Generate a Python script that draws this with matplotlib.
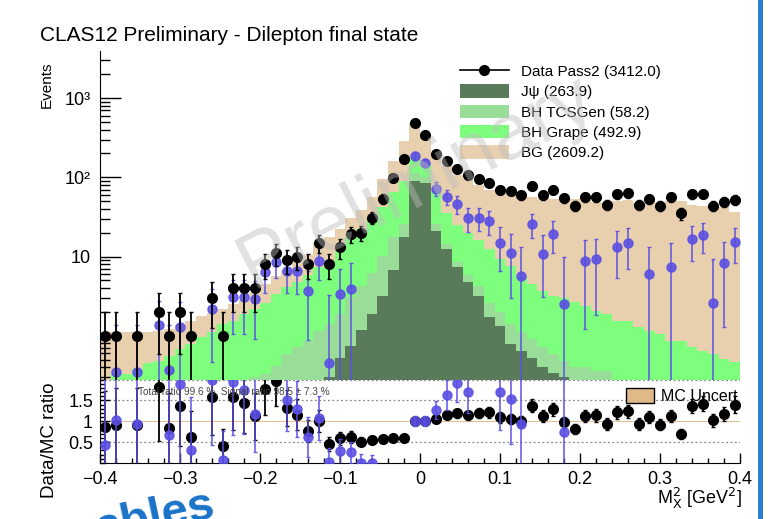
import numpy as np
import matplotlib
matplotlib.use('Agg')
import matplotlib.pyplot as plt
from matplotlib.patches import Patch, Rectangle
from matplotlib.lines import Line2D
from matplotlib.ticker import FixedLocator, NullFormatter, MultipleLocator

plt.rcParams['font.family'] = ['Liberation Sans', 'DejaVu Sans']

# binning in M_X^2
x_lo, x_hi, n_bins = -0.4, 0.4, 60

# data (counts per bin)
data_counts = [1, 1, 0, 1, 0, 2, 1, 2, 1, 0,
               3, 1, 4, 4, 4, 8, 11, 9, 10, 8,
               15, 8, 13, 19, 20, 31, 54, 98, 169, 479,
               341, 199, 161, 129, 107, 96, 86, 70, 68, 59,
               78, 60, 70, 55, 44, 56, 56, 45, 61, 63,
               45, 53, 44, 56, 35, 61, 62, 44, 49, 52]

# MC components (events per bin)
jpsi = [0] * 20 + [0.25, 0.30, 0.53, 0.75, 1.17, 1.88, 3.2, 6.7, 17.5, 91,
                   85, 21, 12.5, 7.3, 4.7, 3.2, 1.7, 1.34, 0.79, 0.65,
                   0.53, 0.4, 0.34, 0.3] + [0] * 16
bh_tcsgen = [0] * 13 + [0.28, 0.30, 0.33, 0.42, 0.59, 0.71, 0.86, 0.91,
                        1.10, 1.37, 2.30, 3.13, 4.32, 7.0, 10.8, 8.5, 21, 15,
                        5.0, 2.0, 1.2, 1.1, 1.0, 0.9, 0.66, 0.61, 0.45, 0.38,
                        0.31, 0.25, 0.18, 0.40, 0.40, 0.36, 0.36] + [0] * 12
bh_grape = [0.28, 0.33, 0.33, 0.38, 0.45, 0.48, 0.56, 0.68, 0.78, 0.95,
            1.1, 1.41, 1.55, 1.60, 1.90, 2.27, 2.98, 3.51, 3.99, 4.94,
            6.14, 7.5, 10.0, 14.45, 17.7, 24.8, 31.8, 47.5, 65, 68,
            53, 39, 20.5, 16.5, 14.2, 11.8, 9.9, 7.3, 6.3, 4.4,
            3.59, 2.99, 2.61, 2.52, 2.3, 2.0, 1.71, 1.52, 1.55, 1.55,
            1.27, 1.16, 1.05, 0.86, 0.86, 0.71, 0.65, 0.59, 0.51, 0.46]
bg = [0.82, 0.77, 0.77, 0.72, 0.67, 0.67, 0.64, 0.67, 0.77, 0.80,
      0.85, 0.79, 0.95, 0.97, 1.3, 1.9, 2.2, 2.7, 3.9, 4.7,
      7.7, 8.5, 10.1, 13.1, 17, 25, 53, 98, 195, 299,
      188, 123, 104, 83, 74, 65, 57.5, 54.7, 57.3, 53.5,
      52.5, 50.3, 50.8, 53, 51.3, 47.6, 46.9, 46.1, 48.5, 49.5,
      46.7, 46.8, 47, 49.1, 49.1, 44.3, 43.4, 42.4, 41.5, 36.5]

# background-subtracted data (blue), nan = not shown
nan = np.nan
data_sub = [nan, 0.35, nan, 0.35, nan, 1.36, 0.37, 1.27, nan, nan,
            2.2, nan, 3.05, 3.05, 2.9, 6.3, 8.6, 6.5, 6.5, 3.7,
            8.9, 0.45, 3.4, 3.9, nan, nan, nan, nan, nan, 186,
            153, 72, 57, 46, 31, 31, 28, 14.9, 11.2, 5.6,
            26, 10.8, 19.4, 2.5, nan, 8.7, 9.3, nan, 13.1, 14.8,
            nan, 6.0, nan, 7.3, nan, 16.6, 18.8, 2.6, 8.3, 15.4]

# ratio panel
ratio_total = [0.86, 0.9, nan, 0.9, nan, 1.82, 0.84, 1.36, 0.62, nan,
               1.58, 0.41, 1.58, 1.44, 1.12, 1.77, 1.97, 1.32, 1.16, 0.76,
               1.0, 0.46, 0.59, 0.62, 0.51, 0.55, 0.57, 0.6, 0.59, 1.0,
               1.0, 1.06, 1.16, 1.19, 1.14, 1.19, 1.22, 1.09, 1.05, 1.0,
               1.37, 1.12, 1.29, 0.98, 0.82, 1.12, 1.14, 0.94, 1.22, 1.24,
               0.93, 1.1, 0.92, 1.12, 0.70, 1.36, 1.42, 1.02, 1.18, 1.40]
ratio_signal = [0.44, 1.02, nan, 0.94, nan, nan, 0.66, 1.9, 0.31, nan,
                2.0, 0.06, 1.95, 1.75, 1.18, nan, nan, 1.5, 1.3, 0.62,
                1.08, 0.03, 0.28, 0.26, 0.01, 0.01, nan, nan, nan, 1.0,
                1.0, 1.27, 1.63, 1.91, 1.71, nan, nan, 1.69, 1.53, 0.94,
                nan, nan, nan, 0.75, nan, nan, nan, nan, nan, nan,
                nan, nan, nan, nan, nan, nan, nan, nan, nan, nan]
mc_rel_unc = 0.015

labels = ['Data Pass2 (3412.0)', 'J\u03c8 (263.9)', 'BH TCSGen (58.2)',
          'BH Grape (492.9)', 'BG (2609.2)']

col_jpsi = '#5a7b59'
col_tcs = '#99dd99'
col_grape = '#7dff7d'
col_bg = '#e8cfae'
col_blue = '#5b50e3'

edges = np.linspace(x_lo, x_hi, n_bins + 1)
centers = 0.5 * (edges[:-1] + edges[1:])
counts = np.array(data_counts, dtype=float)
c_jpsi = np.array(jpsi, dtype=float)
c_tcs = c_jpsi + np.array(bh_tcsgen)
c_grape = c_tcs + np.array(bh_grape)
c_total = c_grape + np.array(bg)
y_min, y_max = 0.28, 3900

fig = plt.figure(figsize=(7.68, 5.19), dpi=100)
ax = fig.add_axes([100 / 768, 1 - 379.5 / 519, 640 / 768, 328.2 / 519])
axr = fig.add_axes([100 / 768, 1 - 463 / 519, 640 / 768, 83.5 / 519])

# stacked histograms (drawn as cumulative fills)
for cum, col in [(c_total, col_bg), (c_grape, col_grape), (c_tcs, col_tcs), (c_jpsi, col_jpsi)]:
    top = np.where(cum > 0, cum, 1e-3)
    ax.fill_between(edges, np.append(top, top[-1]), 1e-3, step='post', color=col, lw=0)

# background subtracted data
sub = np.array(data_sub)
ax.errorbar(centers, sub, yerr=np.sqrt(counts), fmt='o', color=col_blue, ms=6.5,
            elinewidth=1.2, capsize=1.5, alpha=0.9, zorder=4)

# data
m = counts > 0
ax.errorbar(centers[m], counts[m], yerr=np.sqrt(counts[m]), fmt='o', color='black', ms=7,
            elinewidth=1.3, capsize=1.5, zorder=5)

ax.set_yscale('log')
ax.set_xlim(x_lo, x_hi)
ax.set_ylim(y_min, y_max)
ax.yaxis.set_major_locator(FixedLocator([10, 100, 1000]))
ax.yaxis.set_minor_locator(FixedLocator([v * 10.0 ** d for d in range(-1, 4) for v in range(1, 10)
                                          if v * 10.0 ** d not in (10, 100, 1000)]))
ax.set_yticklabels(['10', '10\u00b2', '10\u00b3'])
ax.yaxis.set_minor_formatter(NullFormatter())
ax.tick_params(axis='y', which='major', direction='in', length=15, width=1, labelsize=13, pad=7)
ax.tick_params(axis='y', which='minor', direction='in', length=7.5, width=1)
ax.tick_params(axis='x', which='both', bottom=False, labelbottom=False)
for s in ['top', 'right', 'bottom']:
    ax.spines[s].set_visible(False)

ax.text(0.495, 0.6, 'Preliminary', transform=ax.transAxes, fontsize=56, color='#bdbdbd', alpha=0.45,
        rotation=27, ha='center', va='center', zorder=10)

handles = [Line2D([], [], color='black', marker='o', ms=7, lw=1.2),
           Patch(fc=col_jpsi), Patch(fc=col_tcs), Patch(fc=col_grape), Patch(fc=col_bg)]
ax.legend(handles, labels, loc='upper left', bbox_to_anchor=(460 / 768, 1 - 64 / 519),
          bbox_transform=fig.transFigure, frameon=False, fontsize=11, handlelength=3.2,
          handleheight=0.95, labelspacing=0.36, handletextpad=0.8, borderpad=0, borderaxespad=0)

# ratio panel
axr.fill_between([x_lo, x_hi], 1 - mc_rel_unc, 1 + mc_rel_unc, color='#e2bf92', lw=0, zorder=1)
for yv in [0.5, 1.5, 2.0]:
    axr.axhline(yv, color='#888888', lw=0.9, ls=(0, (1.5, 2)), zorder=1)
rt = np.array(ratio_total)
axr.errorbar(centers[m], rt[m], yerr=rt[m] / np.sqrt(counts[m]), fmt='o', color='black', ms=7,
             elinewidth=1.3, capsize=1.5, zorder=3)
rs = np.array(ratio_signal)
axr.errorbar(centers, rs, yerr=np.sqrt(counts) / c_grape, fmt='o', color=col_blue, ms=6.5,
             elinewidth=1.2, capsize=1.5, alpha=0.9, zorder=4)
axr.set_xlim(x_lo, x_hi)
axr.set_ylim(0, 2)
axr.yaxis.set_major_locator(FixedLocator([0.5, 1, 1.5]))
axr.set_yticklabels(['0.5', '1', '1.5'])
axr.yaxis.set_minor_locator(MultipleLocator(0.1))
axr.xaxis.set_minor_locator(MultipleLocator(0.02))
axr.set_xticks([-0.4, -0.3, -0.2, -0.1, 0, 0.1, 0.2, 0.3, 0.4])
axr.set_xticklabels(['\u22120.4', '\u22120.3', '\u22120.2', '\u22120.1', '0', '0.1', '0.2', '0.3', '0.4'])
axr.tick_params(axis='both', which='major', direction='in', length=7, width=1, labelsize=13)
axr.tick_params(axis='y', which='major', pad=5)
axr.tick_params(axis='x', which='major', pad=6)
axr.tick_params(axis='both', which='minor', direction='in', length=3.5, width=1)
for s in ['top', 'right']:
    axr.spines[s].set_visible(False)
axr.text(138 / 768, 1 - 392 / 519, 'Total ratio 99.6 %, Signal ratio 98.5 \u00b1 7.3 %',
         transform=fig.transFigure, fontsize=7.2, color='#444444', va='center', zorder=6)
axr.legend([Patch(fc='#dfb987', ec='black', lw=1)], ['MC Uncert'], loc='upper left',
           bbox_to_anchor=(626 / 768, 1 - 388 / 519), bbox_transform=fig.transFigure,
           frameon=False, fontsize=11.5, handlelength=1.75, handleheight=1.1,
           handletextpad=0.45, borderpad=0, borderaxespad=0)

fig.text(40 / 768, 1 - 41 / 519, 'CLAS12 Preliminary - Dilepton final state', fontsize=15, va='baseline')
fig.text(47 / 768, 1 - 62 / 519, 'Events', fontsize=11, rotation=90, ha='center', va='top')
fig.text(50 / 768, 1 - 383 / 519, 'Data/MC ratio', fontsize=13.5, rotation=90, ha='center', va='top')
fig.text(742 / 768, 1 - 504 / 519, r'M$_{\mathrm{X}}^{2}$ [GeV$^{2}$]', fontsize=13, ha='right', va='baseline')

# slide elements around the chart
fig.patches.append(Rectangle((758 / 768, 0), 5 / 768, 1, transform=fig.transFigure,
                             color='#2a7fd4', lw=0))
fig.text(99 / 768, 1 - 542 / 519, 'ables', fontsize=34, fontweight='bold', color='#1a73c8',
         rotation=12, ha='left', va='baseline', rotation_mode='anchor')

fig.savefig('out.png', dpi=100)
